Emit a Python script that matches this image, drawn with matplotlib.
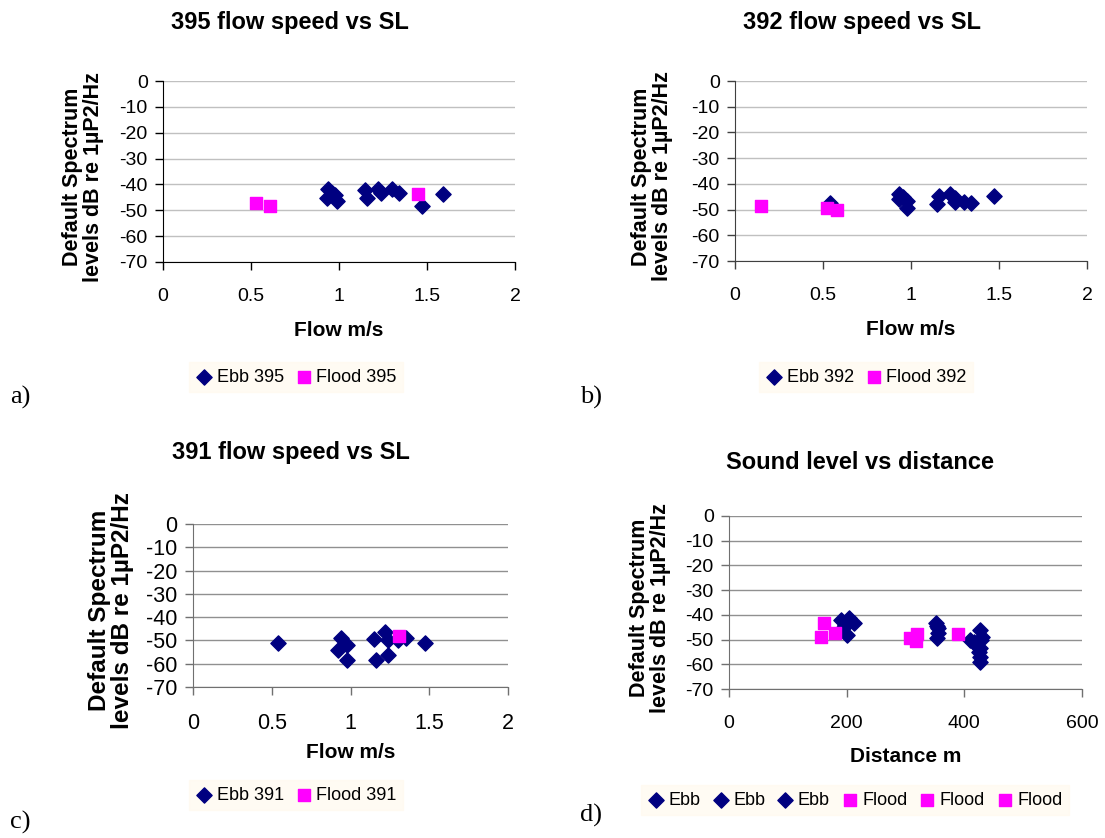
import matplotlib.pyplot as plt

plt.rcParams["font.family"] = ["Liberation Sans", "DejaVu Sans"]
plt.rcParams["axes.unicode_minus"] = False

# panel a) 395
ebb395_flow = [0.94, 0.93, 0.96, 0.98, 0.99, 1.15, 1.16, 1.22, 1.24, 1.30, 1.34, 1.47, 1.59]
ebb395_sl = [-41.7, -45.3, -43.5, -44.0, -46.6, -42.3, -45.3, -41.7, -43.4, -41.7, -43.4, -48.5, -43.8]
flood395_flow = [0.53, 0.61, 1.45]
flood395_sl = [-47.2, -48.5, -43.6]

# panel b) 392
ebb392_flow = [0.54, 0.93, 0.93, 0.955, 0.98, 0.98, 1.16, 1.15, 1.22, 1.25, 1.25, 1.30, 1.34, 1.47]
ebb392_sl = [-47.5, -43.9, -46.0, -45.0, -46.5, -49.4, -44.6, -47.8, -43.9, -45.5, -47.1, -46.9, -47.4, -44.6]
flood392_flow = [0.15, 0.52, 0.58]
flood392_sl = [-48.7, -49.4, -50.3]

# panel c) 391
ebb391_flow = [0.54, 0.94, 0.92, 0.98, 0.98, 1.15, 1.16, 1.22, 1.24, 1.24, 1.30, 1.35, 1.47]
ebb391_sl = [-51.1, -48.9, -54.0, -52.1, -58.3, -49.3, -58.3, -46.4, -50.0, -56.4, -50.0, -48.9, -51.1]
flood391_flow = [1.31]
flood391_sl = [-48.3]

# panel d) distance
ebb_d1_dist = [190, 195, 198, 201, 204, 212]
ebb_d1_sl = [-42.0, -45.0, -44.0, -48.3, -41.3, -43.4]
ebb_d2_dist = [352, 354, 355, 356, 354]
ebb_d2_sl = [-43.4, -44.5, -45.5, -47.5, -49.5]
ebb_d3_dist = [410, 416, 419, 427, 430, 428, 426, 427, 427, 425]
ebb_d3_sl = [-50.3, -51.0, -52.0, -46.0, -49.0, -50.0, -53.5, -56.9, -58.9, -55.0]
flood_d1_dist = [156, 161, 180]
flood_d1_sl = [-48.9, -43.4, -47.2]
flood_d2_dist = [308, 317, 320]
flood_d2_sl = [-49.2, -50.6, -47.8]
flood_d3_dist = [389]
flood_d3_sl = [-47.9]

YTICKS = [0, -10, -20, -30, -40, -50, -60, -70]
YLABEL = "Default Spectrum\nlevels dB re 1µP2/Hz"
EBB = "#000080"
FLOOD = "#FF00FF"

W, H = 1105, 838
fig = plt.figure(figsize=(W / 100, H / 100), dpi=100)


def px(x, y):
    return x / W, 1 - y / H


def make_ax(l, t, r, b):
    return fig.add_axes([l / W, 1 - b / H, (r - l) / W, (b - t) / H])


def style(ax, xlim, xticks, xlabel, spine_col, grid_col, ylab_x, xlab_y,
          fs=14, ylab_fs=15.5, xlab_fs=15):
    ax.set_xlim(*xlim)
    ax.set_ylim(-70, 0)
    ax.set_xticks(xticks)
    ax.set_xticklabels([f"{t:g}" for t in xticks])
    ax.set_yticks(YTICKS)
    ax.tick_params(direction="out", length=6, width=1, color=spine_col,
                   labelsize=fs, pad=5)
    ax.tick_params(axis="x", pad=13)
    for s in ["top", "right"]:
        ax.spines[s].set_visible(False)
    for s in ["left", "bottom"]:
        ax.spines[s].set_color(spine_col)
    ax.yaxis.grid(True, color=grid_col, linewidth=1)
    ax.set_axisbelow(True)
    ax.set_xlabel(xlabel, fontsize=xlab_fs, fontweight="bold", va="center")
    ax.xaxis.set_label_coords(0.5, xlab_y)
    ax.set_ylabel(YLABEL, fontsize=ylab_fs, fontweight="bold", linespacing=1.0,
                  va="center")
    ax.yaxis.set_label_coords(ylab_x, 0.47)


def legend(handles, x, y, ncol):
    leg = fig.legend(handles=handles, loc="center", bbox_to_anchor=px(x, y),
                     ncol=ncol, frameon=True, fontsize=13, handletextpad=0.2,
                     columnspacing=0.6, handlelength=1.0, borderpad=0.35,
                     fancybox=False)
    leg.get_frame().set_facecolor("#FFFAF0")
    leg.get_frame().set_edgecolor("#FFFAF0")


def title(txt, x, y):
    fig.text(*px(x, y), txt, fontsize=17, fontweight="bold", ha="center", va="center")


flow_ticks = [0, 0.5, 1, 1.5, 2]

# a)
ax = make_ax(163, 81, 515, 262)
style(ax, (0, 2), flow_ticks, "Flow m/s", "black", "#C0C0C0", -0.228, -0.376)
h1 = ax.scatter(ebb395_flow, ebb395_sl, marker="D", s=60, color=EBB, label="Ebb 395", zorder=3)
h2 = ax.scatter(flood395_flow, flood395_sl, marker="s", s=75, color=FLOOD, label="Flood 395", zorder=3)
title("395 flow speed vs SL", 290, 23)
legend([h1, h2], 296, 377, 2)

# b)
ax = make_ax(735, 81, 1087, 261)
style(ax, (0, 2), flow_ticks, "Flow m/s", "#404040", "#C0C0C0", -0.235, -0.38)
h1 = ax.scatter(ebb392_flow, ebb392_sl, marker="D", s=60, color=EBB, label="Ebb 392", zorder=3)
h2 = ax.scatter(flood392_flow, flood392_sl, marker="s", s=75, color=FLOOD, label="Flood 392", zorder=3)
title("392 flow speed vs SL", 862, 23)
legend([h1, h2], 866, 377, 2)

# c)
ax = make_ax(193, 524, 508, 687)
style(ax, (0, 2), flow_ticks, "Flow m/s", "#707070", "#909090", -0.26, -0.399,
      fs=15.5, ylab_fs=17.5)
h1 = ax.scatter(ebb391_flow, ebb391_sl, marker="D", s=60, color=EBB, label="Ebb 391", zorder=3)
h2 = ax.scatter(flood391_flow, flood391_sl, marker="s", s=75, color=FLOOD, label="Flood 391", zorder=3)
title("391 flow speed vs SL", 291, 452)
legend([h1, h2], 296, 795, 2)

# d)
ax = make_ax(729, 516, 1082, 689)
style(ax, (0, 600), [0, 200, 400, 600], "Distance m", "#707070", "#909090", -0.224, -0.393)
handles = []
for xs, ys in [(ebb_d1_dist, ebb_d1_sl), (ebb_d2_dist, ebb_d2_sl), (ebb_d3_dist, ebb_d3_sl)]:
    handles.append(ax.scatter(xs, ys, marker="D", s=60, color=EBB, label="Ebb", zorder=3))
for xs, ys in [(flood_d1_dist, flood_d1_sl), (flood_d2_dist, flood_d2_sl), (flood_d3_dist, flood_d3_sl)]:
    handles.append(ax.scatter(xs, ys, marker="s", s=75, color=FLOOD, label="Flood", zorder=3))
title("Sound level vs distance", 860, 462)
legend(handles, 855, 800, 6)

# panel letters
for txt, x, y in [("a)", 10, 397), ("b)", 580, 397), ("c)", 10, 822), ("d)", 580, 815)]:
    fig.text(*px(x, y), txt, fontsize=19, family="Liberation Serif", va="center")

fig.savefig("out.png", dpi=100)
